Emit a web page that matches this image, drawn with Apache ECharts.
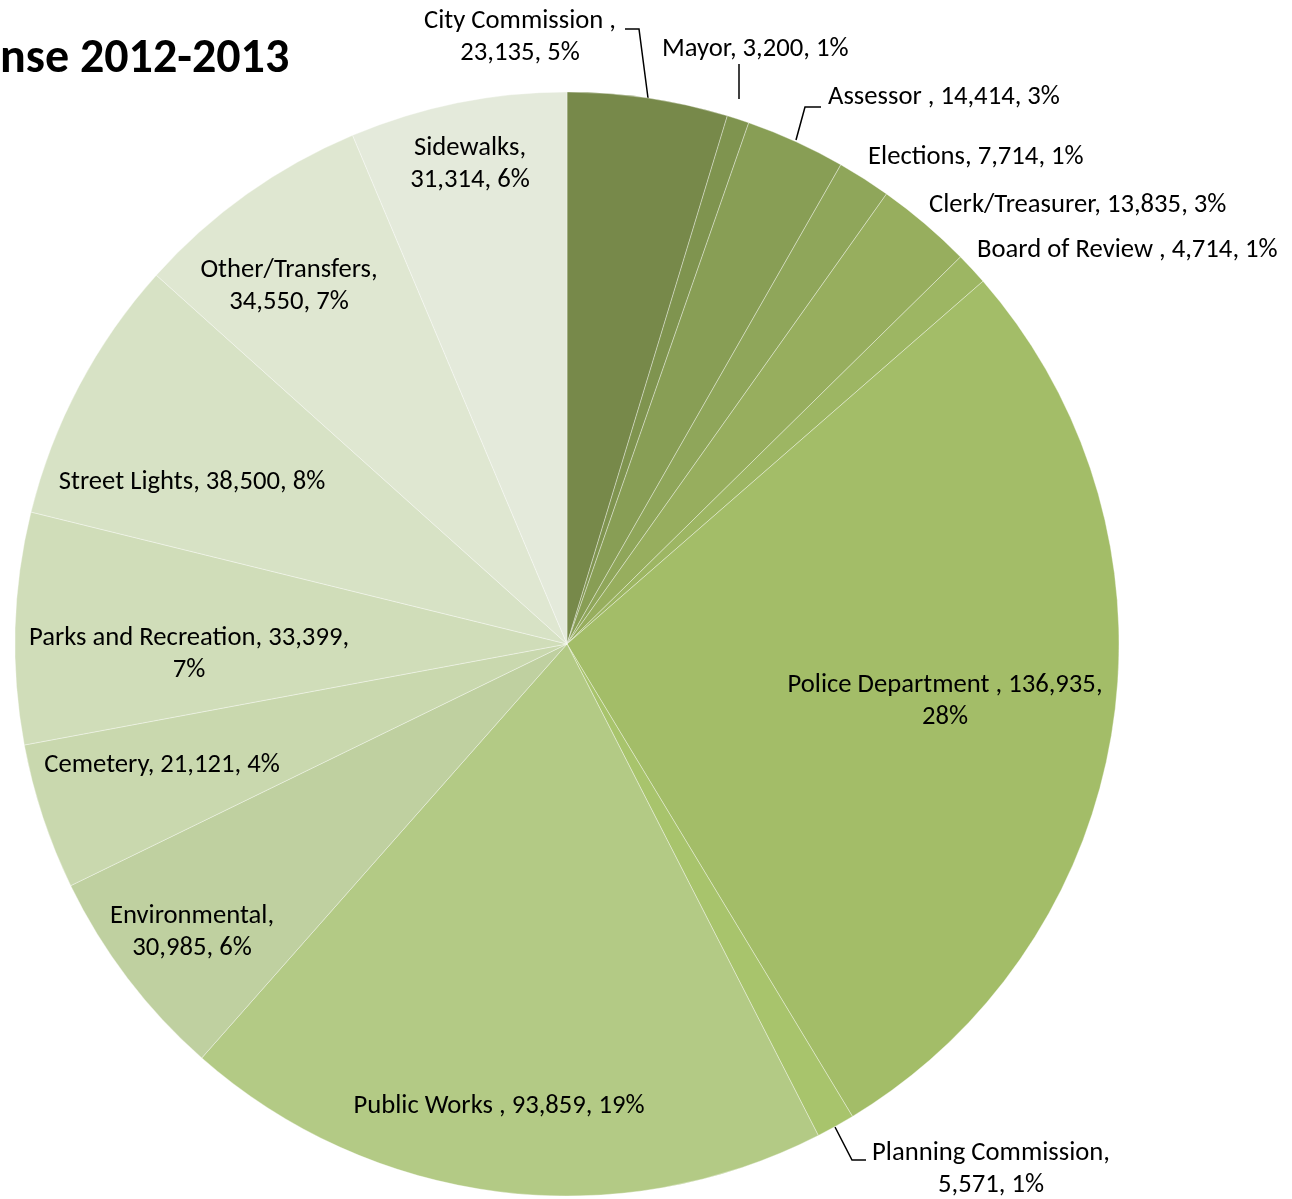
<!DOCTYPE html>
<html>
<head>
<meta charset="utf-8">
<script src="https://cdn.jsdelivr.net/npm/echarts@6/dist/echarts.min.js"></script>
<style>
  html, body { margin: 0; padding: 0; background: #ffffff; }
  #chart { width: 1292px; height: 1199px; }
</style>
</head>
<body>
<div id="chart"></div>
<script>
// ---- data ----
const categories = [
  'City Commission ', 'Mayor', 'Assessor ', 'Elections', 'Clerk/Treasurer',
  'Board of Review ', 'Police Department ', 'Planning Commission', 'Public Works ',
  'Environmental', 'Cemetery', 'Parks and Recreation', 'Street Lights',
  'Other/Transfers', 'Sidewalks'
];
const values = [
  23135, 3200, 14414, 7714, 13835,
  4714, 136935, 5571, 93859,
  30985, 21121, 33399, 38500,
  34550, 31314
];
const titleText = 'nse 2012-2013';

// ---- styles ----
const colors = [
  '#77894a', '#7f944f', '#889e55', '#8fa65a', '#97ae5e',
  '#9db663', '#a3bd68', '#a8c46c', '#b3ca85',
  '#bfd0a0', '#c9d8ae', '#d0ddb9', '#d7e2c5',
  '#dfe7d1', '#e4eadb'
];
// where each label breaks into lines: 'name' = after the name, 'value' = after the value
const wrap = {
  'City Commission ': 'name', 'Sidewalks': 'name', 'Other/Transfers': 'name',
  'Parks and Recreation': 'value', 'Environmental': 'name',
  'Police Department ': 'value', 'Planning Commission': 'name'
};
const outsideNames = ['City Commission ', 'Mayor', 'Assessor ', 'Elections',
  'Clerk/Treasurer', 'Board of Review ', 'Planning Commission'];
// label layout (pixels)
const labelLayoutMap = {
  'City Commission ': { x: 520, y: 37, align: 'center', line: [[648, 98], [639, 29], [625, 29]] },
  'Mayor': { x: 662, y: 49, align: 'left', line: [[739, 99], [739, 64], [739, 64]] },
  'Assessor ': { x: 828, y: 97, align: 'left', line: [[796, 140], [805, 107], [821, 107]] },
  'Elections': { x: 868, y: 157, align: 'left' },
  'Clerk/Treasurer': { x: 929, y: 205, align: 'left' },
  'Board of Review ': { x: 977, y: 250, align: 'left' },
  'Police Department ': { x: 945, y: 701, align: 'center' },
  'Planning Commission': { x: 991, y: 1169, align: 'center', line: [[835, 1127], [852, 1160], [866, 1160]] },
  'Public Works ': { x: 499, y: 1106, align: 'center' },
  'Environmental': { x: 192, y: 932, align: 'center' },
  'Cemetery': { x: 162, y: 765, align: 'center' },
  'Parks and Recreation': { x: 189, y: 654, align: 'center' },
  'Street Lights': { x: 192, y: 482, align: 'center' },
  'Other/Transfers': { x: 289, y: 286, align: 'center' },
  'Sidewalks': { x: 470, y: 164, align: 'center' }
};

const FONT = "Carlito, Lato, 'Open Sans', sans-serif";

const chart = echarts.init(document.getElementById('chart'), null, { renderer: 'canvas' });

const seriesData = categories.map((name, i) => {
  const outside = outsideNames.indexOf(name) >= 0;
  const hasLine = !!(labelLayoutMap[name] && labelLayoutMap[name].line);
  return {
    name: name,
    value: values[i],
    itemStyle: { color: colors[i] },
    label: { position: outside ? 'outside' : 'inside' },
    labelLine: { show: outside && hasLine }
  };
});

chart.setOption({
  animation: false,
  backgroundColor: '#ffffff',
  graphic: [{
    type: 'text',
    x: 0,
    y: 60,
    style: {
      text: titleText,
      font: "bold 48px " + FONT,
      fill: '#000000',
      verticalAlign: 'middle'
    }
  }],
  series: [{
    type: 'pie',
    center: [567, 644],
    radius: [0, 552],
    startAngle: 90,
    clockwise: true,
    percentPrecision: 0,
    avoidLabelOverlap: false,
    itemStyle: { borderColor: 'rgba(255,255,255,0.35)', borderWidth: 1 },
    emphasis: { disabled: true },
    label: {
      show: true,
      color: '#000000',
      fontFamily: FONT,
      fontSize: 26.67,
      lineHeight: 32,
      formatter: function (p) {
        const v = p.value.toLocaleString('en-US');
        const pct = p.percent + '%';
        const w = wrap[p.name];
        if (w === 'name') return p.name + ',\n' + v + ', ' + pct;
        if (w === 'value') return p.name + ', ' + v + ',\n' + pct;
        return p.name + ', ' + v + ', ' + pct;
      }
    },
    labelLine: {
      show: true,
      length: 10,
      length2: 10,
      lineStyle: { color: '#000000', width: 1.5 }
    },
    labelLayout: function (params) {
      const name = categories[params.dataIndex];
      const L = labelLayoutMap[name];
      const out = { x: L.x, y: L.y, align: L.align, verticalAlign: 'middle' };
      if (L.line) out.labelLinePoints = L.line;
      return out;
    },
    data: seriesData
  }]
});
</script>
</body>
</html>
